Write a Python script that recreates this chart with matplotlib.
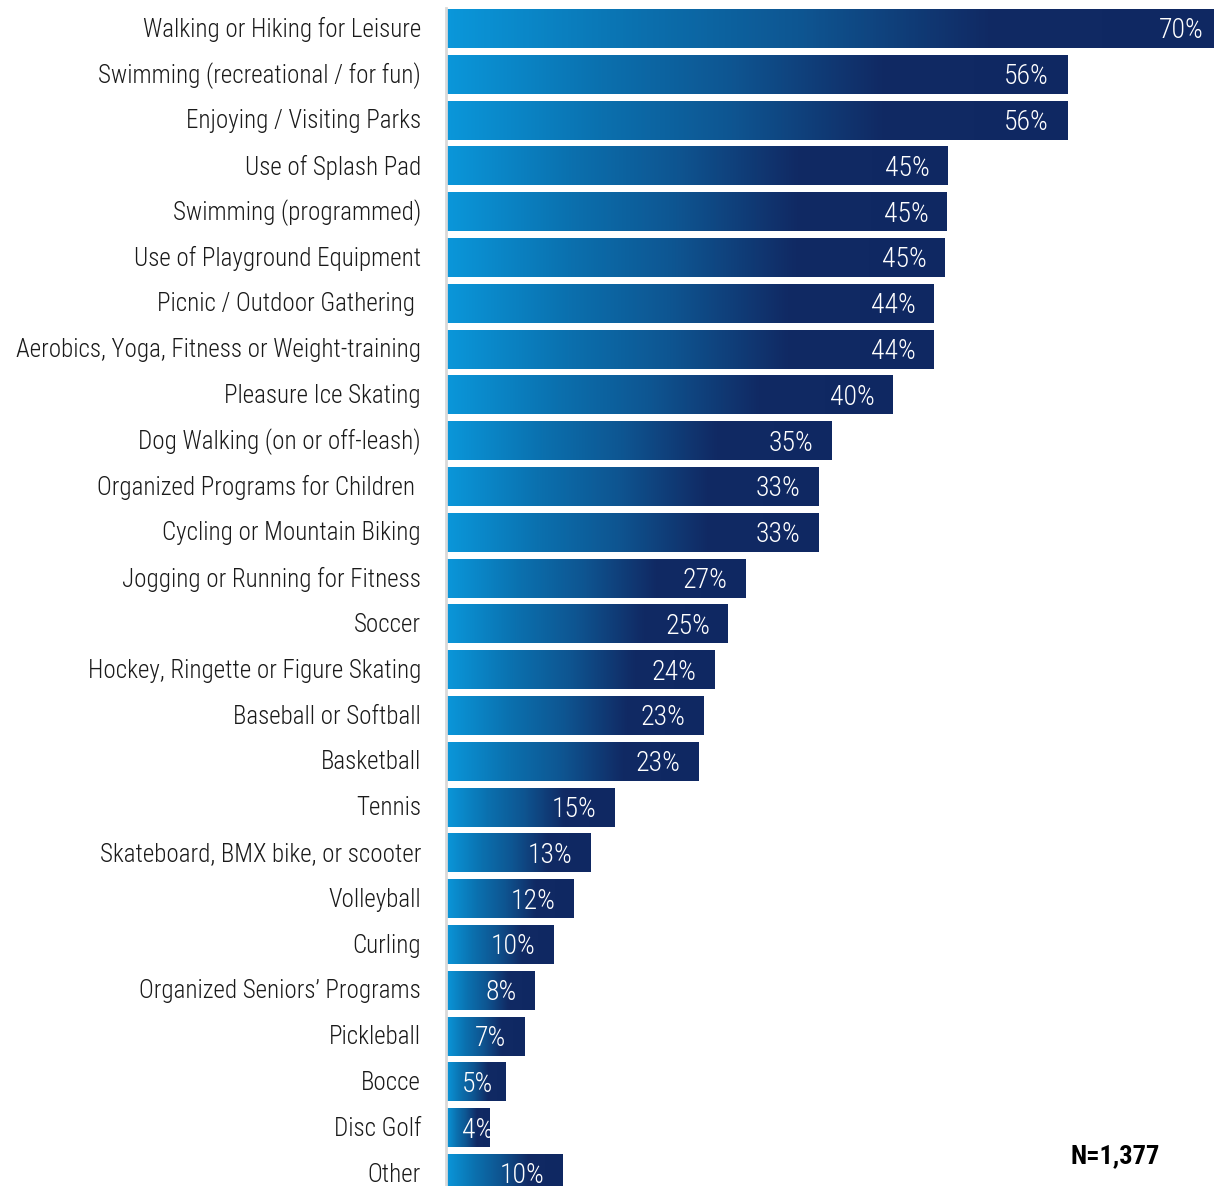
import matplotlib
matplotlib.use("Agg")
import matplotlib.pyplot as plt
import numpy as np
from matplotlib.colors import LinearSegmentedColormap
from matplotlib import font_manager

categories = [
    "Walking or Hiking for Leisure",
    "Swimming (recreational / for fun)",
    "Enjoying / Visiting Parks",
    "Use of Splash Pad",
    "Swimming (programmed)",
    "Use of Playground Equipment",
    "Picnic / Outdoor Gathering ",
    "Aerobics, Yoga, Fitness or Weight-training",
    "Pleasure Ice Skating",
    "Dog Walking (on or off-leash)",
    "Organized Programs for Children ",
    "Cycling or Mountain Biking",
    "Jogging or Running for Fitness",
    "Soccer",
    "Hockey, Ringette or Figure Skating",
    "Baseball or Softball",
    "Basketball",
    "Tennis",
    "Skateboard, BMX bike, or scooter",
    "Volleyball",
    "Curling",
    "Organized Seniors\u2019 Programs",
    "Pickleball",
    "Bocce",
    "Disc Golf",
    "Other",
]
values = [70.0, 56.05, 56.05, 45.3, 45.2, 45.0, 44.0, 44.0, 40.3, 34.8, 33.6, 33.6,
          27.0, 25.45, 24.2, 23.2, 22.8, 15.25, 13.0, 11.55, 9.66, 8.0, 7.1, 5.4, 3.9, 10.47]
value_labels = ["70%", "56%", "56%", "45%", "45%", "45%", "44%", "44%", "40%", "35%", "33%", "33%",
                "27%", "25%", "24%", "23%", "23%", "15%", "13%", "12%", "10%", "8%", "7%", "5%", "4%", "10%"]
note = "N=1,377"

avail = {f.name for f in font_manager.fontManager.ttflist}
fam = [f for f in ["Roboto Condensed", "Liberation Sans Narrow", "DejaVu Sans Condensed"] if f in avail]
fam = fam + ["DejaVu Sans"]
plt.rcParams['font.family'] = fam

W, H = 1214, 1186
fig = plt.figure(figsize=(W / 100, H / 100), dpi=100)
ax_left = 446 / W
ax = fig.add_axes([ax_left, 0, 1 - ax_left, 1])

pitch = 45.8
n = len(categories)
y_top = -29 / pitch
y_bot = (n - 1) + (H - (29 + (n - 1) * pitch)) / pitch
px_per = 11.08
xmax = (W - 446) / px_per

cmap = LinearSegmentedColormap.from_list(
    "grad",
    [(0.0, "#0a97da"), (0.25, "#0b70ae"), (0.46, "#0e5591"), (0.70, "#112a64"), (1.0, "#0f2862")])
grad = np.linspace(0, 1, 256).reshape(1, -1)
bh = 0.83
for i, v in enumerate(values):
    ax.imshow(grad, cmap=cmap, aspect='auto', extent=(0, v, i + bh / 2, i - bh / 2),
              interpolation='bilinear', zorder=2)
    if v < 6:
        ax.annotate(value_labels[i], xy=(0, i), xytext=(11.5, -1.3), textcoords='offset points',
                    ha='left', va='center', color='white', fontsize=20, fontweight='light',
                    zorder=3, annotation_clip=False)
    else:
        ax.annotate(value_labels[i], xy=(v, i), xytext=(-13, -1.3), textcoords='offset points',
                    ha='right', va='center', color='white', fontsize=20, fontweight='light',
                    zorder=3, annotation_clip=False)
    ax.annotate(categories[i], xy=(0, i), xytext=(-18, -0.5), textcoords='offset points',
                ha='right', va='center', color='#1a1a1a', fontsize=18, fontweight='light',
                annotation_clip=False)
ax.set_ylim(y_bot, y_top)
ax.set_xlim(0, xmax)

ax.set_yticks([])
ax.set_xticks([])
for s in ['top', 'right', 'bottom']:
    ax.spines[s].set_visible(False)
ax.spines['left'].set_color('#d9d9d9')
ax.spines['left'].set_linewidth(2)
ax.spines['left'].set_bounds(y_bot, -0.45)

fig.text(1160 / W, 1 - 1156 / H, note, ha='right', va='center', fontsize=19, color='black',
         fontweight='semibold')

fig.savefig("out.png", dpi=100)
